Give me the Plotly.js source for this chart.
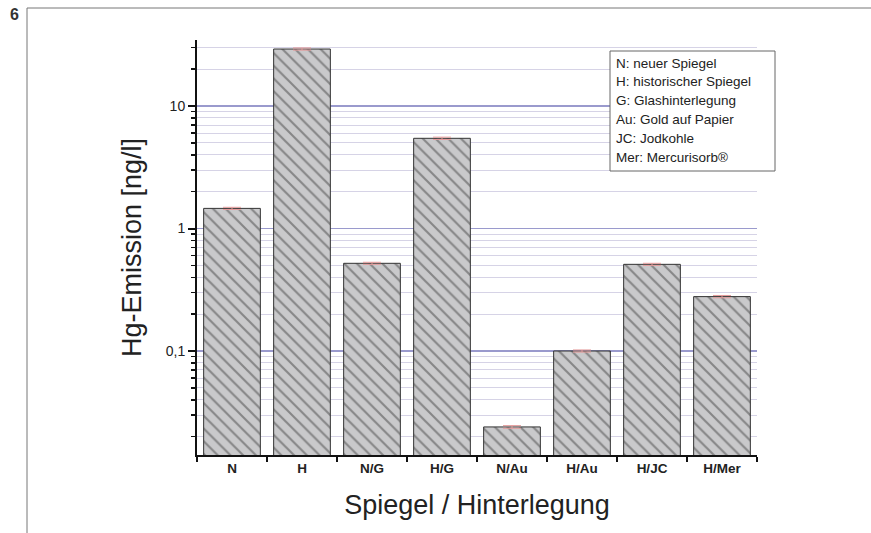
<!DOCTYPE html>
<html>
<head>
<meta charset="utf-8">
<script src="https://cdn.plot.ly/plotly-3.0.1.min.js"></script>
<style>
html,body{margin:0;padding:0;background:#fff;}
#chart{width:871px;height:533px;}
</style>
</head>
<body>
<div id="chart"></div>
<script>
const categories = ["N", "H", "N/G", "H/G", "N/Au", "H/Au", "H/JC", "H/Mer"];
const emission = [1.46, 29.2, 0.52, 5.45, 0.024, 0.10, 0.51, 0.278];
const errors = [0.03, 0.6, 0.01, 0.12, 0.0006, 0.002, 0.01, 0.006];
const yTickVals = [0.1, 1, 10];
const yTickText = ["0,1", "1", "10"];
const minorVals = [0.02,0.03,0.04,0.05,0.06,0.07,0.08,0.09,
                   0.2,0.3,0.4,0.5,0.6,0.7,0.8,0.9,
                   2,3,4,5,6,7,8,9,20,30];
const legendLines = ["N: neuer Spiegel", "H: historischer Spiegel", "G: Glashinterlegung",
                     "Au: Gold auf Papier", "JC: Jodkohle", "Mer: Mercurisorb®"];

const FONT = "Liberation Sans, Arial, sans-serif";

const trace = {
  type: "bar",
  x: categories,
  y: emission,
  width: 0.81,
  marker: {
    color: "#c9c9cb",
    line: {color: "#333", width: 1},
    pattern: {shape: "\\", bgcolor: "#c9c9cb", fgcolor: "#444", size: 9, solidity: 0.24, fillmode: "overlay"}
  },
  error_y: {type: "data", array: errors, visible: true, color: "#e49a9a", thickness: 1, width: 9},
  hoverinfo: "x+y"
};

const plotL = 197, plotR = 757, plotT = 40, plotB = 455;
const pw = plotR - plotL, ph = plotB - plotT;
const px = v => (v - plotL) / pw;
const py = v => (plotB - v) / ph;

const annotations = [
  {text: "<b>6</b>", xref: "paper", yref: "paper", x: px(14), y: py(15), showarrow: false,
   xanchor: "center", yanchor: "middle", font: {family: FONT, size: 16, color: "#333"}}
];
legendLines.forEach((t, i) => {
  annotations.push({text: t, xref: "paper", yref: "paper", x: px(614), y: py(63 + i * 18.8),
    showarrow: false, xanchor: "left", yanchor: "middle",
    font: {family: FONT, size: 13.5, color: "#222"}});
});

const shapes = [
  {type: "line", xref: "paper", yref: "paper", x0: px(27), x1: px(871), y0: py(8), y1: py(8),
   line: {color: "#777", width: 1}},
  {type: "line", xref: "paper", yref: "paper", x0: px(27), x1: px(27), y0: py(8), y1: py(533),
   line: {color: "#777", width: 1}},
  {type: "rect", xref: "paper", yref: "paper", x0: px(610), x1: px(775), y0: py(51), y1: py(171),
   fillcolor: "#fff", line: {color: "#666", width: 1}, layer: "above"}
];

const layout = {
  width: 871, height: 533,
  margin: {l: plotL, r: 871 - plotR, t: plotT, b: 533 - plotB},
  paper_bgcolor: "#fff", plot_bgcolor: "#fff",
  showlegend: false,
  font: {family: FONT, color: "#222"},
  xaxis: {
    type: "category",
    range: [-0.5, 7.5],
    showline: true, linecolor: "#111", linewidth: 2,
    ticks: "outside", tickson: "boundaries", ticklen: 5, tickwidth: 2, tickcolor: "#111",
    showgrid: false, zeroline: false,
    tickfont: {family: FONT, size: 13.5, color: "#222", weight: "bold"},
    title: {text: "Spiegel / Hinterlegung", font: {family: FONT, size: 27, color: "#222"}, standoff: 20}
  },
  yaxis: {
    type: "log",
    range: [Math.log10(0.01416), 1.539],
    showline: true, linecolor: "#111", linewidth: 2,
    tickmode: "array", tickvals: yTickVals, ticktext: yTickText,
    ticks: "outside", ticklen: 7, tickwidth: 2, tickcolor: "#111",
    tickfont: {family: FONT, size: 14, color: "#222"},
    showgrid: true, gridcolor: "#9a9acd", gridwidth: 1.5,
    zeroline: false,
    minor: {tickmode: "array", tickvals: minorVals, ticks: "outside", ticklen: 4, tickwidth: 1.5,
            tickcolor: "#111", showgrid: true, gridcolor: "#d6d3e6", gridwidth: 1},
    title: {text: "Hg-Emission [ng/l]", font: {family: FONT, size: 27, color: "#222"}, standoff: 16}
  },
  shapes: shapes,
  annotations: annotations
};

Plotly.newPlot("chart", [trace], layout, {displayModeBar: false, staticPlot: true});
</script>
</body>
</html>
